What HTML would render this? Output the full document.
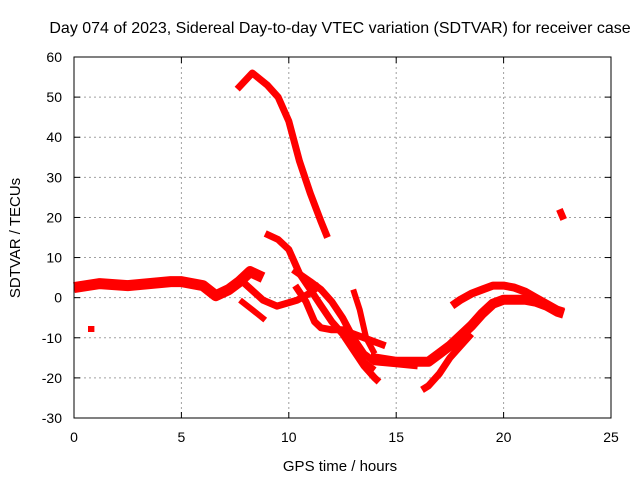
<!DOCTYPE html>
<html><head><meta charset="utf-8"><style>
body{margin:0;background:#fff}
svg{display:block;font-family:"Liberation Sans",sans-serif}
</style></head><body>
<svg id="chart" width="640" height="480">
<text x="340" y="33" font-size="16" text-anchor="middle">Day 074 of 2023, Sidereal Day-to-day VTEC variation (SDTVAR) for receiver case</text>
<text x="340" y="471" font-size="15" text-anchor="middle">GPS time / hours</text>
<text x="20" y="238" font-size="15" text-anchor="middle" transform="rotate(-90 20 238)">SDTVAR / TECUs</text>
<g id="grid"></g><g id="series"></g><g id="axes"></g>
</svg>
<script>
const xTicks=[0,5,10,15,20,25];
const yTicks=[-30,-20,-10,0,10,20,30,40,50,60];
const seg1X=[0,1.2,2.5,3.5,4.5,5,6,6.6,7.2,7.7,8.2,8.8];
const seg1Y=[2.5,3.5,3,3.5,4,4,3,0.5,2,4,6.5,5];
const seg2X=[7.87,8.8,9.45,10.4,11,11.45];
const seg2Y=[3.9,-0.6,-2.1,-0.6,1.2,3.2];
const seg3X=[7.73,8.3,8.9];
const seg3Y=[-0.6,-3,-5.6];
const seg4X=[0.65,0.95];
const seg4Y=[-7.8,-7.8];
const seg5X=[7.6,8.3,9,9.5,10,10.5,11,11.5,11.8];
const seg5Y=[52,56,53,50,44,34,26,19,15];
const seg6X=[8.9,9.5,10,10.5,11,11.5,12,12.5,13,13.5,14,14.2];
const seg6Y=[16,14.5,12,6,2,-2,-6,-9,-13,-17,-20,-21];
const seg7X=[10.2,11,11.5,12,12.5,13,13.5,14,15,16];
const seg7Y=[7,4,2,-1,-5,-10,-14,-16,-16.5,-17];
const seg8X=[10.3,10.8,11.2,11.5,12,12.5,13,13.5,14,14.5];
const seg8Y=[3,-1,-6,-7.5,-8,-8,-9,-10,-11,-12];
const seg9X=[12.5,13,13.5,14];
const seg9Y=[-8,-12,-16,-18];
const seg10X=[13,13.3,13.6,14];
const seg10Y=[2,-3,-10,-14];
const seg11X=[13.8,15,16,16.5,17,17.5,18,18.5,19,19.5,20,21,21.5,22,22.5,22.8];
const seg11Y=[-15,-16,-16,-16,-14,-12,-9.5,-7,-4,-1.5,-0.5,-0.5,-1,-2,-3.5,-4];
const seg12X=[17.6,18,18.5,19,19.5,20,20.5,21,21.5,22,22.5,22.8];
const seg12Y=[-2,-0.5,1,2,3,3,2.5,1.5,0,-1.5,-3,-3.5];
const seg13X=[16.2,16.5,17,17.5,18,18.5];
const seg13Y=[-23,-22,-19,-15,-12,-9];
const seg14X=[22.6,22.8];
const seg14Y=[22,19.5];
const segs=[[seg1X,seg1Y,11],[seg2X,seg2Y,7],[seg3X,seg3Y,6],[seg4X,seg4Y,6],[seg5X,seg5Y,7],[seg6X,seg6Y,7],[seg7X,seg7Y,7],[seg8X,seg8Y,7],[seg9X,seg9Y,6],[seg10X,seg10Y,6],[seg11X,seg11Y,10],[seg12X,seg12Y,8],[seg13X,seg13Y,7],[seg14X,seg14Y,7]];
const L=74,R=611,T=57,B=418;
const sx=v=>L+(v-0)/25*(R-L);
const sy=v=>T+(60-v)/90*(B-T);
const NS="http://www.w3.org/2000/svg";
const grid=document.getElementById('grid'),axes=document.getElementById('axes'),ser=document.getElementById('series');
function mk(tag,attrs,parent){const e=document.createElementNS(NS,tag);for(const k in attrs)e.setAttribute(k,attrs[k]);parent.appendChild(e);return e;}
xTicks.forEach(t=>{
  const x=sx(t);
  if(t>0&&t<25){const g=mk('line',{x1:x,x2:x,y1:T,y2:B,stroke:'#a0a0a0','stroke-dasharray':'2,3'},grid);
  
  }
  mk('line',{x1:x,x2:x,y1:B,y2:B-6,stroke:'#000'},axes);
  mk('line',{x1:x,x2:x,y1:T,y2:T+6,stroke:'#000'},axes);
  const l=mk('text',{x:x,y:B+24,'font-size':14,'text-anchor':'middle'},axes);l.textContent=t;
  
  
});
yTicks.forEach(t=>{
  const y=sy(t);
  if(t>-30&&t<60){const g=mk('line',{x1:L,x2:R,y1:y,y2:y,stroke:'#a0a0a0','stroke-dasharray':'2,3'},grid);
  
  }
  mk('line',{x1:L,x2:L+6,y1:y,y2:y,stroke:'#000'},axes);
  mk('line',{x1:R,x2:R-6,y1:y,y2:y,stroke:'#000'},axes);
  const l=mk('text',{x:62,y:y+5,'font-size':14,'text-anchor':'end'},axes);l.textContent=t;
  
  
});
const fr=mk('rect',{x:L,y:T,width:R-L,height:B-T,fill:'none',stroke:'#000'},axes);


segs.forEach(s=>{
  const pts=s[0].map((x,i)=>sx(x).toFixed(1)+','+sy(s[1][i]).toFixed(1)).join(' ');
  const p=mk('polyline',{points:pts,fill:'none',stroke:'#ff0000','stroke-width':s[2],'stroke-linejoin':'round','stroke-linecap':'butt'},ser);
  
  
});
</script>
</body></html>
